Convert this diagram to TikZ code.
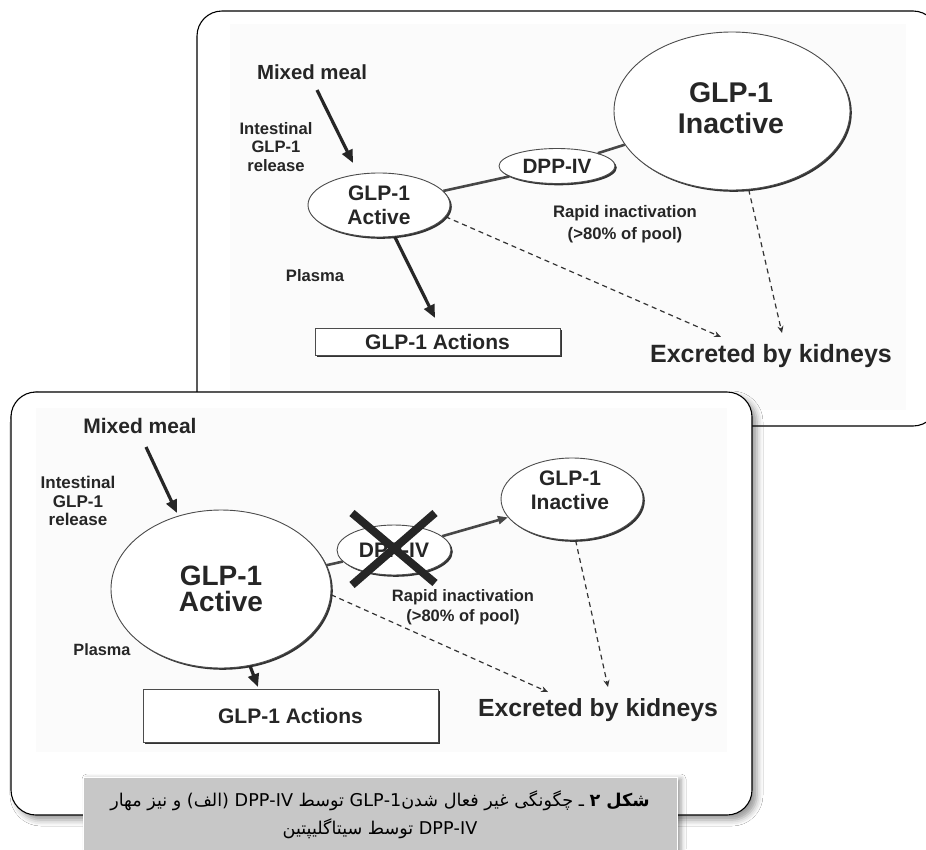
\documentclass[tikz,border=0pt]{standalone}
\usepackage{fontspec}
\setmainfont{Liberation Sans}
\newfontfamily\arabicfont[Script=Arabic]{DejaVu Sans}
\TeXXeTstate=1
\usetikzlibrary{arrows.meta,shapes.geometric,shadows,shadows.blur}
\newcommand\fsz[2]{\fontsize{#1}{#2}\selectfont}
\begin{document}
\begin{tikzpicture}[x=1pt,y=-1pt,
  lbl/.style={inner sep=0pt, align=center, text=black!85},
  ell/.style={ellipse, draw=black!70, line width=0.9pt, fill=white, inner sep=0pt, text=black!85, align=center,
    drop shadow={shadow xshift=1.8pt,shadow yshift=-1.8pt,fill=black!80,opacity=1}},
  actbox/.style={rectangle, draw=black!70, line width=0.9pt, fill=white, inner sep=0pt, text=black!85,
    drop shadow={shadow xshift=2.4pt,shadow yshift=-2.4pt,fill=black!80,opacity=1}},
  link/.style={line width=2.6pt, draw=black!72},
  bigarrow/.style={line width=3.2pt, draw=black!85, -{Triangle[length=13pt,width=11pt]}},
  dasharrow/.style={line width=1.2pt, draw=black!80, dash pattern=on 5pt off 4pt, -{Stealth[length=7pt,width=6pt]}},
  panel/.style={draw=black, line width=1.1pt, rounded corners=25pt, fill=white},
  captxt/.style={inner sep=0pt, font=\arabicfont\fsz{17.6}{21}, text=black},
]
\useasboundingbox (0,0) rectangle (926,849);
\fill[white] (0,0) rectangle (926,849);

% ---------- top panel ----------
\draw[panel] (197,11) rectangle (938,426);
\fill[black!1.5] (230,24) rectangle (906,410);

\node[lbl, font=\bfseries\fsz{20.4}{22}] (mm1) at (312,72) {Mixed meal};
\node[lbl, font=\bfseries\fsz{16.6}{18.5}] (itr1) at (276,147) {Intestinal\\GLP-1\\release};
\node[ell, minimum width=142pt, minimum height=64pt, font=\bfseries\fsz{21}{24}] (act1) at (379,205) {GLP-1\\Active};
\node[ell, minimum width=116pt, minimum height=35pt, font=\bfseries\fsz{20.7}{22}] (dpp1) at (557,166) {DPP-IV};
\node[ell, minimum width=236pt, minimum height=158pt] (ina1) at (732,111) {};
\node[lbl, font=\bfseries\fsz{28.5}{31}] (ina1t) at (731,108) {GLP-1\\Inactive};
\node[lbl, font=\bfseries\fsz{16.7}{22}] (rap1) at (625,224) {Rapid inactivation\\(>80\% of pool)};
\node[lbl, font=\bfseries\fsz{16.6}{18}] (pl1) at (315,276) {Plasma};
\node[actbox, minimum width=245pt, minimum height=27pt, font=\bfseries\fsz{21}{23}] (acn1) at (437.5,341.5) {GLP-1 Actions};
\node[lbl, font=\bfseries\fsz{25}{28}] (exc1) at (771,356) {Excreted by kidneys};

\draw[link] (act1) -- (dpp1);
\draw[link] (dpp1) -- (ina1);
\coordinate (mmS1) at (317,90);
\coordinate (mmE1) at (353,163);
\draw[bigarrow] (mmS1) -- (mmE1);
\coordinate (plE1) at (435,318);
\draw[bigarrow] (act1) -- (plE1);
\coordinate (dE1) at (721,337);
\draw[dasharrow] (act1.-10) -- (dE1);
\coordinate (dF1) at (782,333);
\draw[dasharrow] (ina1.-78) -- (dF1);

% ---------- bottom panel ----------
\draw[panel, blur shadow={shadow xshift=5pt,shadow yshift=-5pt,shadow blur radius=6pt,shadow opacity=40}] (11,392) rectangle (752,815);
\fill[black!1.5] (36,408) rectangle (727,752);

\node[lbl, font=\bfseries\fsz{21}{23}] (mm2) at (140,426) {Mixed meal};
\node[lbl, font=\bfseries\fsz{17}{18.5}] (itr2) at (78,501) {Intestinal\\GLP-1\\release};
\node[ell, minimum width=220pt, minimum height=158pt, font=\bfseries\fsz{28}{26}] (act2) at (221,589) {GLP-1\\Active};
\node[ell, minimum width=114pt, minimum height=50pt, font=\bfseries\fsz{21}{23}] (dpp2) at (394,550) {DPP-IV};
\node[ell, minimum width=142pt, minimum height=82pt] (ina2) at (572,499) {};
\node[lbl, font=\bfseries\fsz{21}{24}] (ina2t) at (570,490) {GLP-1\\Inactive};
\node[lbl, font=\bfseries\fsz{16.5}{20}] (rap2) at (463,607) {Rapid inactivation\\(>80\% of pool)};
\node[lbl, font=\bfseries\fsz{16.3}{18}] (pl2) at (102,650) {Plasma};
\node[actbox, minimum width=295pt, minimum height=53pt, font=\bfseries\fsz{21}{23}] (acn2) at (290.5,715.5) {GLP-1 Actions};
\node[lbl, font=\bfseries\fsz{24.8}{28}] (exc2) at (598,710) {Excreted by kidneys};

\draw[link] (act2) -- (dpp2);
\draw[link, -{Triangle[length=10pt,width=8pt]}] (dpp2) -- (ina2);
\coordinate (xa) at (352,513); \coordinate (xb) at (435,583);
\coordinate (xc) at (435,513); \coordinate (xd) at (352,585);
\draw[line width=8pt, black!85] (xa) -- (xb);
\draw[line width=8pt, black!85] (xc) -- (xd);
\coordinate (mmS2) at (146,447);
\coordinate (mmE2) at (177,513);
\draw[bigarrow] (mmS2) -- (mmE2);
\coordinate (plE2) at (258,687);
\draw[bigarrow] (act2) -- (plE2);
\coordinate (dE2) at (548,692);
\draw[dasharrow] (act2.-3) -- (dE2);
\coordinate (dF2) at (608,687);
\draw[dasharrow] (ina2.-85) -- (dF2);

% ---------- caption ----------
\draw[draw=white, line width=1pt, fill=black!22, blur shadow={shadow xshift=4pt,shadow yshift=-2pt,shadow blur radius=5pt,shadow opacity=40}] (83,777) rectangle (677,856);
\node[captxt] (cap1) at (380,801) {\beginR\textbf{شکل ۲} ـ چگونگی غیر فعال شدن\beginL GLP-1\endL{} توسط \beginL DPP-IV\endL{} (الف) و نیز مهار\endR};
\node[captxt] (cap2) at (380,829) {\beginR\beginL DPP-IV\endL{} توسط سیتاگلیپتین\endR};
\end{tikzpicture}
\end{document}
